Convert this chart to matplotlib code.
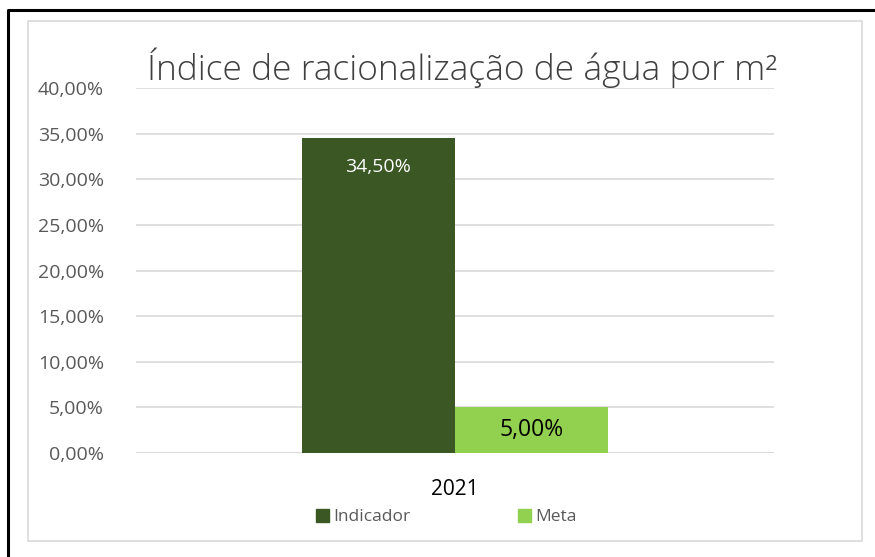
import matplotlib.pyplot as plt
from matplotlib.lines import Line2D
from matplotlib.patches import Rectangle, Patch
from matplotlib.ticker import FuncFormatter

plt.rcParams['font.family'] = ['Open Sans', 'DejaVu Sans']

# data
categories = ['2021']
series_names = ['Indicador', 'Meta']
series_values = [[0.345], [0.05]]
series_colors = ['#3A5724', '#92D050']
label_colors = ['white', 'black']

W, H = 875, 557
fig = plt.figure(figsize=(W / 100, H / 100), dpi=100)

def fx(px):
    return px / W

def fy(py):
    return 1 - py / H

# outer frame (top and left only) and light inner border
fig.add_artist(Line2D([fx(8), fx(8), 1], [0, fy(10), fy(10)], color='black', lw=2.2))
fig.add_artist(Rectangle((fx(28), fy(541)), fx(862) - fx(28), fy(21) - fy(541),
                         fill=False, edgecolor='#D9D9D9', lw=1.2))

ax = fig.add_axes([fx(136), fy(453), fx(774) - fx(136), fy(88) - fy(453)])

offsets = [-0.12, 0.12]
width = 0.24
for i, name in enumerate(series_names):
    bars = ax.bar([offsets[i]], series_values[i], width=width, color=series_colors[i],
                  label=name, zorder=3)
    for b, v in zip(bars, series_values[i]):
        txt = f'{v * 100:.2f}%'.replace('.', ',')
        if i == 0:
            ax.text(b.get_x() + b.get_width() / 2, v - 0.032, txt, ha='center', va='center',
                    color=label_colors[i], fontsize=14)
        else:
            ax.text(b.get_x() + b.get_width() / 2, v / 2, txt, ha='center', va='center',
                    color=label_colors[i], fontsize=16.5)

ax.set_xlim(-0.5, 0.5)
ax.set_ylim(0, 0.40)
ax.set_yticks([i * 0.05 for i in range(9)])
ax.yaxis.set_major_formatter(FuncFormatter(lambda v, p: f'{v * 100:.2f}%'.replace('.', ',')))
ax.tick_params(axis='y', length=0, labelsize=14, labelcolor='#595959', pad=23)
ax.set_xticks([0])
ax.set_xticklabels(categories)
ax.tick_params(axis='x', length=0, labelsize=15, labelcolor='black', pad=19)
ax.grid(axis='y', color='#D9D9D9', lw=1.2, zorder=0)
for s in ax.spines.values():
    s.set_visible(False)
ax.axhline(0, color='#D9D9D9', lw=1.2, zorder=2)

fig.text(fx(462), fy(68), 'Índice de racionalização de água por m²', ha='center', va='center',
         fontsize=25.5, color='#404040', fontweight='light')

handles = [Patch(color=c) for c in series_colors]
fig.legend(handles, series_names, loc='center', bbox_to_anchor=(fx(446), fy(517)), ncol=2,
           frameon=False, fontsize=12.5, labelcolor='#595959', handlelength=0.75,
           handleheight=0.75, handletextpad=0.25, columnspacing=6.2)

fig.savefig('out.png', dpi=100, facecolor='white')
